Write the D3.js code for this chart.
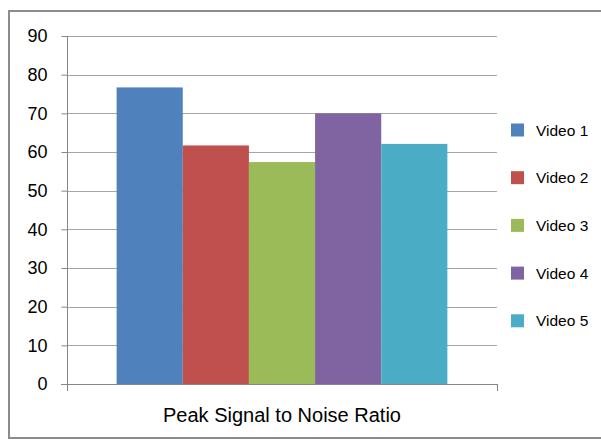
<!DOCTYPE html>
<html><head><meta charset="utf-8">
<script src="https://cdn.jsdelivr.net/npm/d3@7"></script>
<style>body{margin:0;background:#fff}svg{display:block}text{font-family:"Liberation Sans",Arial,sans-serif;fill:#000}</style>
</head><body>
<svg id="c" width="601" height="442"></svg>
<script>
const categories = ["Peak Signal to Noise Ratio"];
const seriesNames = ["Video 1","Video 2","Video 3","Video 4","Video 5"];
const seriesValues = [76.7, 61.7, 57.4, 70.0, 62.1];
const seriesColors = ["#4f81bd","#c0504d","#9bbb59","#8064a2","#4bacc6"];
const yTicks = [0,10,20,30,40,50,60,70,80,90];

const svg = d3.select("#c");
// outer frame
svg.append("rect").attr("x",9).attr("y",11).attr("width",620).attr("height",427)
  .attr("fill","#fff").attr("stroke","#8c8c8c").attr("stroke-width",2);

const pL=67,pR=497,pT=36,pB=384;
const y = d3.scaleLinear().domain([0,90]).range([pB,pT]);
const x0 = d3.scaleBand().domain(categories).range([pL,pR]).paddingInner(0).paddingOuter(0.15);
const x1 = d3.scaleBand().domain(seriesNames).range([0,x0.bandwidth()]);

// gridlines
svg.append("g").selectAll("line").data(yTicks.filter(d=>d>0)).join("line")
  .attr("x1",pL).attr("x2",pR).attr("y1",d=>Math.round(y(d))+0.5).attr("y2",d=>Math.round(y(d))+0.5)
  .attr("stroke","#a6a6a6").attr("stroke-width",1);

// bars
const g = svg.append("g");
categories.forEach(c=>{
  g.selectAll("rect.b").data(seriesNames).join("rect").attr("class","b")
    .attr("x",(d)=>x0(c)+x1(d)).attr("width",x1.bandwidth())
    .attr("y",(d,i)=>y(seriesValues[i])).attr("height",(d,i)=>y(0)-y(seriesValues[i]))
    .attr("fill",(d,i)=>seriesColors[i]);
});

// y axis
const ya = svg.append("g").attr("transform",`translate(${pL+0.5},0)`)
  .call(d3.axisLeft(y).tickValues(yTicks).tickSize(6).tickPadding(14).tickFormat(d3.format("d")));
ya.select(".domain").attr("stroke","#868686").attr("d",`M0,${pT}V${pB+0.5}`);
ya.selectAll(".tick line").attr("stroke","#868686");
ya.selectAll(".tick text").attr("font-size",18).attr("font-family","'Liberation Sans',Arial,sans-serif").attr("fill","#000");

// x axis line
svg.append("line").attr("x1",pL-6).attr("x2",pR).attr("y1",pB+0.5).attr("y2",pB+0.5).attr("stroke","#868686");
svg.selectAll("line.xt").data([pL,pR]).join("line").attr("class","xt")
  .attr("x1",d=>d+0.5).attr("x2",d=>d+0.5).attr("y1",pB).attr("y2",pB+7).attr("stroke","#868686");

// category label
svg.selectAll("text.cat").data(categories).join("text").attr("class","cat")
  .attr("x",d=>x0(d)+x0.bandwidth()/2).attr("y",422).attr("text-anchor","middle")
  .attr("font-size",20).text(d=>d);

// legend
const lg = svg.append("g");
seriesNames.forEach((n,i)=>{
  const cy = 130 + i*47.7;
  lg.append("rect").attr("x",511).attr("y",cy-6.5).attr("width",13).attr("height",13).attr("fill",seriesColors[i]);
  lg.append("text").attr("x",536).attr("y",cy+5.5).attr("font-size",15.5).text(n);
});
</script>
</body></html>
